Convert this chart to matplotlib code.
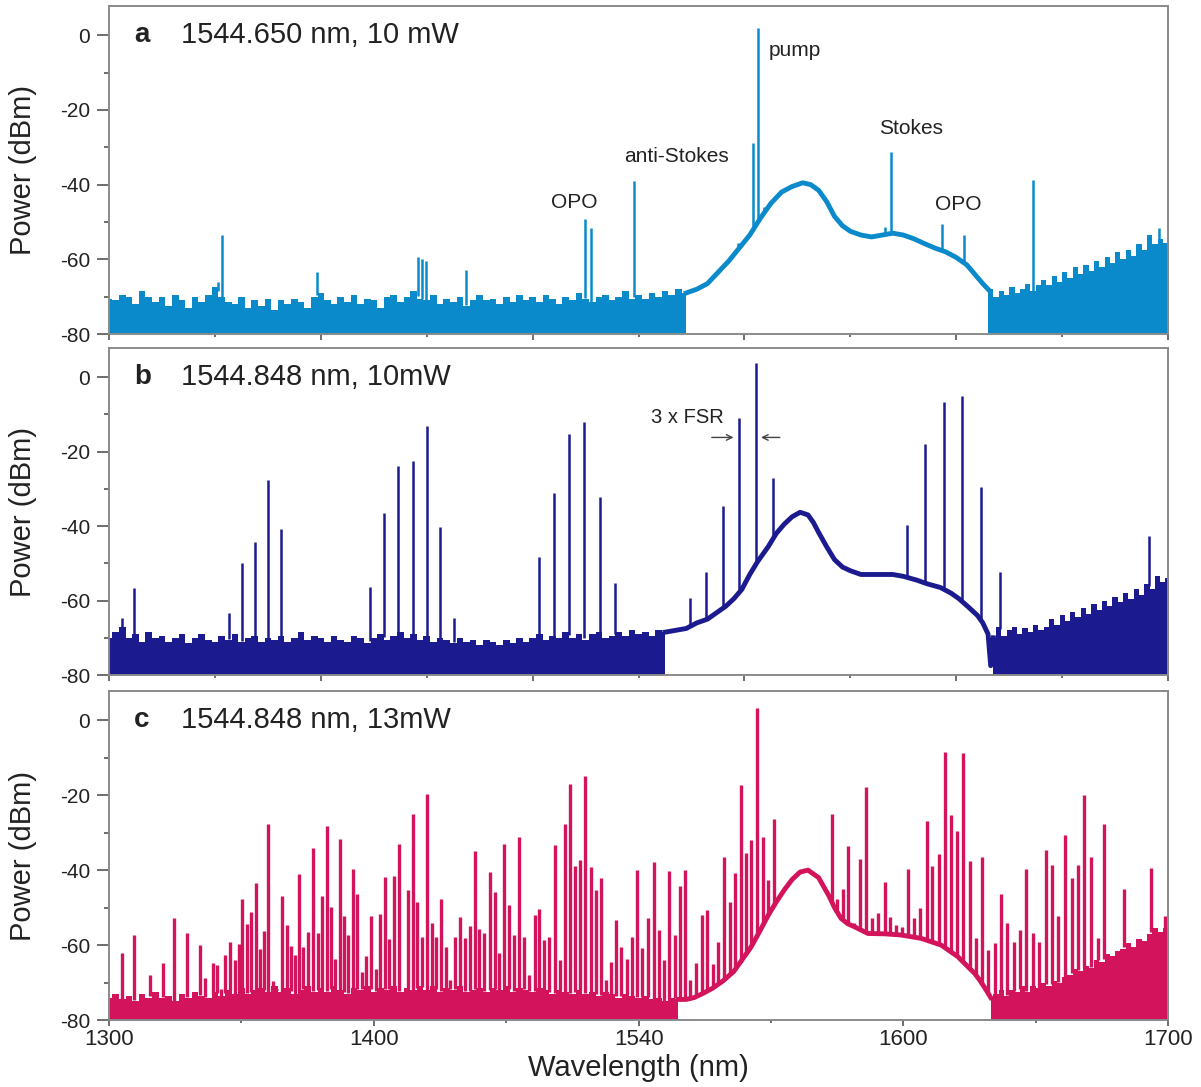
import numpy as np
import matplotlib.pyplot as plt

plt.rcParams['font.family'] = ['Liberation Sans', 'DejaVu Sans']
plt.rcParams['axes.unicode_minus'] = False

# ---------------- panel a : 1544.650 nm, 10 mW ----------------
floor_a_wl = np.arange(1300, 1518, 2.5)
floor_a = [-70.5, -71, -69.5, -70, -72, -68.5, -70, -71.5, -70, -72.5, -69.5, -71, -73, -70, -71.5, -69.5,
           -67.5, -70, -71.5, -72, -70, -73, -71, -72.5, -70.5, -73.5, -71, -72, -70.5, -71.5, -73, -70,
           -69, -71, -72, -70, -71.5, -69.5, -72, -70.5, -71, -73, -70, -69.5, -71.5, -70, -68.5, -70.5,
           -71, -69.5, -72, -70.5, -71.5, -70, -72.5, -71, -69.5, -71, -70.5, -72, -70, -71.5, -69.5, -71,
           -70, -71.5, -69.5, -70.5, -72, -70, -71, -69, -70.5, -71.5, -70, -69.5, -71, -70, -68.5, -70.5,
           -69.5, -70.5, -69, -70, -68.5, -69.5, -68, -69]
hump_a_wl = [1518, 1522, 1526, 1530, 1534, 1538, 1542, 1546, 1550, 1554, 1558, 1562, 1565, 1568,
             1571, 1574, 1577, 1580, 1584, 1588, 1592, 1596, 1600, 1604, 1608, 1612, 1616, 1620,
             1624, 1627, 1630, 1632]
hump_a = [-69, -68, -66.5, -63.5, -60.5, -57, -53.5, -49, -45, -42, -40.5, -39.5, -40, -41.5,
          -44.5, -48.5, -51, -52.5, -53.5, -54, -53.5, -53, -53.5, -54.5, -55.8, -57, -58, -59.5,
          -61.5, -64, -66.5, -68]
floor_ar_wl = np.arange(1633, 1702, 2)
floor_ar = [-68, -70, -68.5, -69.5, -67.5, -69, -68, -66.5, -68.5, -67, -65.5, -67, -64.5, -66, -63.5,
            -65, -62, -64, -61.5, -63, -60.5, -62, -59.5, -61, -58, -60, -57.5, -59, -56, -57.5,
            -53.5, -56, -54.5, -55.5, -55.5]
peaks_a_wl = [1341.0, 1342.6, 1378.6, 1416.7, 1418.2, 1419.7, 1434.8, 1479.8, 1482.0, 1498.3,
              1537.6, 1543.2, 1545.1, 1547.4, 1593.2, 1595.4, 1614.6, 1623.0, 1649.0, 1696.6]
peaks_a = [-66, -53.5, -63.4, -59.5, -60, -60.5, -62.9, -49.3, -51.7, -39.1,
           -55.6, -28.9, 1.9, -46, -51.4, -31.3, -50.6, -53.5, -38.8, -51.5]

# ---------------- panel b : 1544.848 nm, 10 mW ----------------
floor_b_wl = np.arange(1300, 1510, 2.5)
floor_b = [-70, -68.5, -67, -70, -69, -71, -68.5, -70, -69.5, -71, -70, -69, -71.5, -70, -69, -70.5,
           -71, -69.5, -70.5, -69, -71, -70, -69.5, -71, -70, -70.5, -69.5, -71, -70, -68.5, -70.5, -69.5,
           -70, -71, -69.5, -70.5, -71, -69.5, -70, -71.5, -70, -69, -70.5, -69.5, -68.5, -70, -69, -70.5,
           -69.5, -71, -70, -70.5, -71.5, -70, -71, -70.5, -72, -70.5, -71, -72, -70.5, -71.5, -70, -71,
           -70, -69, -70.5, -69.5, -70, -68.5, -70, -69, -70.5, -69, -68.5, -70, -69.5, -68.5, -69.5, -68,
           -69, -68.5, -69.5, -68]
hump_b_wl = [1510, 1514, 1518, 1522, 1526, 1530, 1533, 1536, 1539, 1542, 1545, 1549, 1552, 1555, 1558,
             1561, 1564, 1566, 1568, 1571, 1574, 1577, 1580, 1584, 1590, 1596, 1600, 1605, 1609,
             1614, 1618, 1621, 1624.5, 1628, 1630, 1632, 1633, 1634]
hump_b = [-68.5, -68, -67.5, -66, -65, -63, -61.5, -59.5, -57, -53, -49.5, -45.5, -42, -39.5, -37.5,
          -36.3, -37, -39, -41.7, -45.5, -49, -51, -52, -53, -53, -53, -53.5, -54.5, -55.5,
          -56.5, -58, -59.5, -61.7, -64, -66, -69, -77.5, -70]
floor_br_wl = np.arange(1636, 1703, 2)
floor_br = [-67, -69.5, -68, -67, -69, -67.5, -68.5, -66.5, -68, -67, -65, -66.5, -64, -65.5, -63,
            -64.5, -62, -63.5, -61, -62.5, -60, -61.5, -59, -60.5, -58, -59.5, -57, -58.5, -55.5, -57,
            -53.5, -55, -54, -54]
peaks_b_wl = [1304.9, 1309.4, 1345.3, 1350.2, 1355.1, 1360.0, 1365.0, 1398.6, 1404.0, 1409.0,
              1414.8, 1420.0, 1425.0, 1430.4, 1462.4, 1468.0, 1473.7, 1479.4, 1485.4, 1491.0,
              1519.5, 1525.5, 1532.0, 1538.0, 1544.4, 1550.8, 1601.4, 1608.2, 1615.4, 1622.2,
              1629.4, 1636.5, 1692.8]
peaks_b = [-64.6, -56.6, -63.3, -49.8, -44.4, -27.5, -40.9, -56.3, -36.4, -24.0,
           -22.6, -13.2, -40.2, -64.7, -48.2, -31.2, -15.4, -12.0, -32.3, -55.2,
           -59.3, -52.3, -34.7, -11.0, 3.8, -27.2, -39.6, -18.0, -6.7, -5.1,
           -29.6, -52.3, -42.6]

# ---------------- panel c : 1544.848 nm, 13 mW ----------------
floor_c_wl = np.arange(1300, 1516, 2.5)
floor_c = [-74, -73, -74.5, -73.5, -75, -73, -74, -72.5, -74, -73.5, -75, -73, -74, -72.5, -73.5, -74,
           -72.5, -73.5, -72, -73, -71.5, -73, -72, -71.5, -72.5, -71, -72.5, -71.5, -73, -72, -71, -72.5,
           -71.5, -72.5, -71, -72, -73, -71.5, -72, -71, -72.5, -71.5, -72, -71, -72.5, -71.5, -72, -71,
           -72, -71, -72.5, -71.5, -72, -71, -72.5, -72, -71.5, -72.5, -71.5, -72, -71, -72.5, -71.5, -72,
           -72.5, -71.5, -72, -73, -72, -72.5, -73, -72, -73, -72.5, -73.5, -72.5, -73, -74, -73, -73.5,
           -74, -73.5, -74.5, -74, -75, -74, -74.5]
hump_c_wl = [1515, 1518, 1521, 1524, 1528, 1532, 1536, 1539, 1542.5, 1546, 1549, 1552, 1555, 1558,
             1561, 1564, 1566, 1568, 1570, 1572, 1574, 1576.5, 1579, 1581.5, 1586.6, 1593, 1599,
             1606.7, 1614.3, 1620.6, 1624, 1627, 1629, 1631.3, 1633]
hump_c = [-74.5, -74.5, -74, -73, -71.5, -69.5, -67, -64, -60.5, -56, -52, -48.5, -45.3, -42.5,
          -40.5, -40, -41, -42, -44.5, -47, -50, -52.9, -54.3, -55.1, -56.9, -57, -57.3,
          -58.2, -60, -63.1, -65.5, -67.6, -69.5, -72, -74]
floor_cr_wl = np.arange(1635, 1702, 2)
floor_cr = [-73, -72, -73.5, -72, -72.5, -71, -72.5, -71, -71.5, -70, -71, -69.5, -70, -68.5, -68,
            -66.5, -67, -65.5, -66, -64, -64.5, -62.5, -63, -61.5, -61, -59.5, -60.5, -58.5, -59, -57,
            -55.5, -56.5, -55.5, -55.5]
peaks_c_wl = [1304.8, 1309.6, 1315.5, 1320.3, 1324.7, 1329.5, 1334.4, 1336.1, 1339.2, 1340.8,
              1342.4, 1343.9, 1345.5, 1347.4, 1349.0, 1350.2, 1352.1, 1353.8, 1355.4, 1357.1,
              1358.6, 1360.1, 1362.0, 1363.6, 1365.2, 1367.1, 1368.7, 1370.2, 1371.9, 1373.4,
              1375.0, 1376.9, 1378.8, 1380.3, 1382.2, 1383.8, 1385.3, 1387.2, 1388.8, 1390.3,
              1392.2, 1393.8, 1395.4, 1397.2, 1398.9, 1400.8, 1402.3, 1404.2, 1405.8, 1407.6,
              1409.5, 1412.8, 1414.7, 1416.3, 1418.1, 1420.1, 1421.9, 1423.5, 1425.4, 1427.3,
              1428.9, 1430.8, 1432.7, 1434.5, 1436.4, 1438.3, 1439.9, 1441.8, 1443.7, 1445.6,
              1447.4, 1449.3, 1451.0, 1452.9, 1454.7, 1456.7, 1458.6, 1460.8, 1462.4, 1464.3,
              1466.2, 1468.3, 1470.2, 1472.1, 1474.0, 1475.9, 1477.8, 1479.6, 1481.9, 1483.8,
              1485.7, 1487.8, 1489.7, 1491.6, 1493.5, 1495.6, 1497.5, 1499.5, 1501.3, 1503.6,
              1505.7, 1507.6, 1509.6, 1511.5, 1513.7, 1515.8, 1517.7, 1519.6, 1521.8, 1524.1,
              1526.0, 1528.2, 1530.0, 1532.2, 1534.4, 1536.3, 1538.5, 1540.4, 1542.6, 1544.7,
              1547.0, 1548.8, 1551.1,
              1573.0, 1575.0, 1577.2, 1579.2, 1581.5, 1583.8, 1586.0, 1588.2, 1590.6, 1592.9,
              1595.0, 1597.3, 1599.6, 1601.7, 1604.0, 1606.4, 1608.8, 1611.0, 1613.3, 1615.6,
              1617.9, 1620.3, 1622.5, 1625.1, 1627.3, 1629.8, 1632.0, 1634.6, 1636.8, 1639.2,
              1641.7, 1644.0, 1646.5, 1648.8, 1651.2, 1653.8, 1656.0, 1658.5, 1661.0, 1663.6,
              1665.8, 1668.4, 1670.9, 1673.4, 1675.8, 1683.5, 1693.6, 1698.7]
peaks_c = [-62.2, -57.2, -68.0, -64.7, -52.7, -56.7, -60.0, -68.7, -64.9, -65.3,
           -71.6, -62.7, -59.1, -64.0, -59.8, -47.7, -54.5, -51.1, -43.4, -61.0,
           -56.2, -27.6, -69.5, -72.0, -47.0, -54.7, -60.2, -62.7, -40.9, -60.4,
           -56.6, -34.2, -56.7, -46.8, -28.3, -49.8, -63.6, -31.7, -52.3, -57.2,
           -39.6, -46.5, -67.1, -62.9, -52.3, -66.5, -51.7, -41.8, -58.5, -41.5,
           -32.9, -45.3, -24.9, -48.4, -57.8, -19.7, -54.2, -57.8, -47.6, -60.4,
           -69.3, -57.8, -52.4, -58.2, -54.9, -34.8, -55.6, -56.9, -40.4, -45.8,
           -62.2, -32.9, -49.3, -57.3, -31.1, -57.8, -68.0, -52.0, -50.5, -58.7,
           -57.8, -33.2, -64.0, -27.6, -16.9, -38.8, -37.3, -14.8, -39.1, -45.3,
           -42.0, -69.3, -64.4, -53.3, -60.4, -63.6, -57.8, -40.0, -60.9, -52.9,
           -37.8, -56.0, -64.0, -40.3, -57.3, -44.3, -40.0, -69.3, -64.9, -52.0,
           -50.7, -65.1, -59.1, -36.4, -48.4, -40.7, -17.3, -35.4, -32.0, 3.3,
           -31.1, -42.7, -26.4,
           -24.9, -47.6, -45.1, -33.6, -54.2, -37.1, -17.8, -52.9, -51.4, -43.1,
           -52.6, -54.7, -55.1, -39.8, -52.9, -50.2, -26.8, -38.8, -35.6, -8.4,
           -25.3, -29.6, -8.7, -37.6, -58.2, -36.6, -61.3, -59.4, -46.5, -54.2,
           -59.1, -56.0, -39.6, -56.9, -59.3, -34.5, -38.5, -52.3, -30.7, -42.0,
           -38.7, -20.0, -36.6, -58.2, -27.7, -45.1, -39.4, -52.3]

colors = ['#0a8acb', '#1b1b8f', '#d3135b']
titles = ['1544.650 nm, 10 mW', '1544.848 nm, 10mW', '1544.848 nm, 13mW']
letters = ['a', 'b', 'c']
yticks = [-80, -60, -40, -20, 0]
ytick_labels = ['-80', '-60', '-40', '-20', '0']
xticks_ab = [1300, 1380, 1460, 1540, 1620, 1700]
xticks_c = [1300, 1400, 1500, 1600, 1700]
xtick_labels_c = ['1300', '1400', '1540', '1600', '1700']

panels = [
    (floor_a_wl, floor_a, hump_a_wl, hump_a, floor_ar_wl, floor_ar, peaks_a_wl, peaks_a),
    (floor_b_wl, floor_b, hump_b_wl, hump_b, floor_br_wl, floor_br, peaks_b_wl, peaks_b),
    (floor_c_wl, floor_c, hump_c_wl, hump_c, floor_cr_wl, floor_cr, peaks_c_wl, peaks_c),
]

fig = plt.figure(figsize=(12.01, 10.87), dpi=100)
boxes = [[0.0908, 0.6927, 0.8818, 0.3017],
         [0.0908, 0.3790, 0.8818, 0.3008],
         [0.0908, 0.0616, 0.8818, 0.3027]]
text_col = '#222222'
spine_col = '#8a8a8a'

for i, (fw, fl, hw, hm, rw, rf, pw, pdb) in enumerate(panels):
    ax = fig.add_axes(boxes[i])
    c = colors[i]
    # noise floor left, joined to the start of the ASE hump
    ax.fill_between(np.append(fw, hw[0]), -80, np.append(fl, hm[0]), step='mid', color=c, lw=0)
    ax.plot(hw, hm, color=c, lw=3.5, solid_joinstyle='round')
    ax.fill_between(np.insert(rw, 0, hw[-1]), -80, np.insert(rf, 0, hm[-1]), step='mid', color=c, lw=0)
    env_wl = np.concatenate([fw, hw, rw])
    env = np.concatenate([fl, hm, rf])
    base = np.interp(pw, env_wl, env)
    ax.vlines(pw, base, pdb, color=c, lw=2.4 if i == 2 else 1.8)

    ax.set_xlim(1300, 1700)
    ax.set_ylim(-80, 7.8)
    for s in ax.spines.values():
        s.set_color(spine_col)
        s.set_linewidth(1.4)
        s.set_zorder(5)
    ax.set_yticks(yticks)
    ax.set_yticklabels(ytick_labels)
    ax.set_yticks([-70, -50, -30, -10], minor=True)
    ax.tick_params(axis='y', which='major', direction='out', length=8.5, width=1.2,
                   colors='#555555', labelcolor=text_col, labelsize=15, pad=5)
    ax.tick_params(axis='y', which='minor', direction='out', length=3.5, width=1.2, colors='#555555')
    if i < 2:
        ax.set_xticks(xticks_ab)
        ax.set_xticks([1340, 1420, 1500, 1580, 1660], minor=True)
        ax.set_xticklabels([])
    else:
        ax.set_xticks(xticks_c)
        ax.set_xticklabels(xtick_labels_c)
        ax.set_xticks([1350, 1450, 1550, 1650], minor=True)
        ax.set_xlabel('Wavelength (nm)', fontsize=21, color=text_col, labelpad=3)
    ax.tick_params(axis='x', which='major', direction='out', length=4.5, width=1.2,
                   colors='#555555', labelcolor=text_col, labelsize=16, pad=2)
    ax.tick_params(axis='x', which='minor', direction='out', length=2.5, width=1.2, colors='#555555')

    ax.set_ylabel('Power (dBm)', fontsize=21, color=text_col)
    ax.yaxis.set_label_coords(-0.068, 0.5)

    ax.text(1309.4, 0, letters[i], fontsize=20, fontweight='bold', color=text_col, va='center')
    ax.text(1327.0, 0, titles[i], fontsize=21, color=text_col, va='center')

    if i == 0:
        ax.text(1549.3, -4.1, 'pump', fontsize=15, color=text_col, va='center')
        ax.text(1514.2, -32.4, 'anti-Stokes', fontsize=15, color=text_col, va='center', ha='center')
        ax.text(1475.6, -44.7, 'OPO', fontsize=15, color=text_col, va='center', ha='center')
        ax.text(1602.9, -24.9, 'Stokes', fontsize=15, color=text_col, va='center', ha='center')
        ax.text(1620.7, -45.3, 'OPO', fontsize=15, color=text_col, va='center', ha='center')
    if i == 1:
        ax.text(1518.3, -10.8, '3 x FSR', fontsize=14.5, color=text_col, va='center', ha='center')
        ax.annotate('', xy=(1536.9, -16.2), xytext=(1526.6, -16.2),
                    arrowprops=dict(arrowstyle='->', color='#444444', lw=1))
        ax.annotate('', xy=(1545.2, -16.2), xytext=(1554.4, -16.2),
                    arrowprops=dict(arrowstyle='->', color='#444444', lw=1))

fig.savefig('out.png', dpi=100)
